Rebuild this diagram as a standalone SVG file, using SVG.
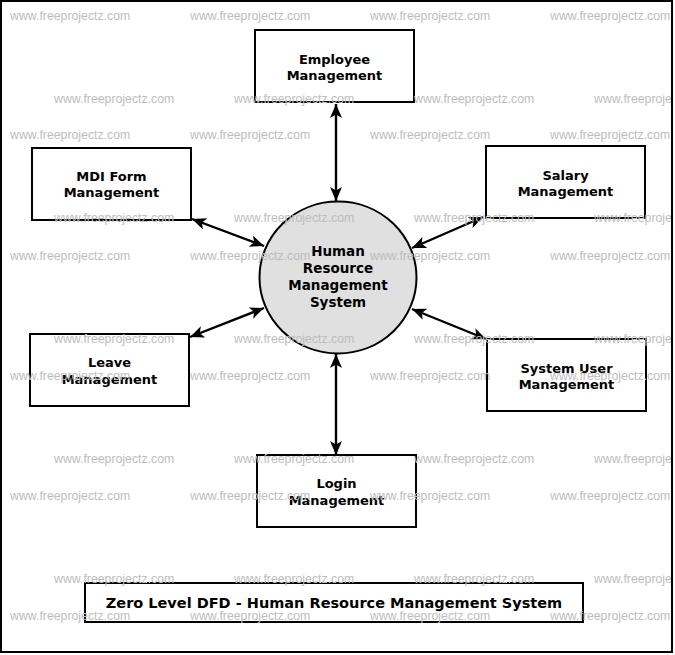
<svg xmlns="http://www.w3.org/2000/svg" width="675" height="655" viewBox="0 0 675 655">
<style>
.box{fill:#ffffff;stroke:#000000;stroke-width:2}
.lbl{font-family:"DejaVu Sans",sans-serif;font-weight:bold;font-size:13px;fill:#000000;text-anchor:middle}
.clbl{font-family:"DejaVu Sans",sans-serif;font-weight:bold;font-size:13.5px;fill:#000000;text-anchor:middle}
.wm{font-family:"Liberation Sans",Arial,sans-serif;font-size:12.3px;fill:#bdbdbd}
.conn{stroke:#000000;stroke-width:2.4;fill:none;marker-start:url(#ah);marker-end:url(#ah)}
</style>
<defs>
<marker id="ah" viewBox="0 0 14 12" refX="14" refY="6" markerWidth="14" markerHeight="12" markerUnits="userSpaceOnUse" orient="auto-start-reverse">
<path d="M0,0 L14,6 L0,12 L3.5,6 Z" fill="#000000"/>
</marker>
</defs>
<rect x="0" y="0" width="675" height="655" fill="#ffffff"/>
<rect x="1" y="1" width="671" height="651" fill="none" stroke="#000000" stroke-width="2"/>

<g id="connectors">
<line class="conn" x1="336" y1="104" x2="336" y2="201"/>
<line class="conn" x1="192" y1="219" x2="264" y2="246"/>
<line class="conn" x1="483" y1="217" x2="412" y2="248"/>
<line class="conn" x1="190" y1="337" x2="264" y2="308"/>
<line class="conn" x1="486" y1="339" x2="412" y2="309"/>
<line class="conn" x1="336" y1="354" x2="336" y2="455"/>
</g>

<g id="hrms">
<ellipse cx="338" cy="277.5" rx="78.5" ry="76" fill="#e0e0e0" stroke="#000000" stroke-width="2"/>
<text class="clbl" x="338" y="256">Human</text>
<text class="clbl" x="338" y="273">Resource</text>
<text class="clbl" x="338" y="290">Management</text>
<text class="clbl" x="338" y="307">System</text>
</g>

<g id="employee">
<rect class="box" x="255" y="30" width="159" height="72"/>
<text class="lbl" x="334.5" y="64">Employee</text>
<text class="lbl" x="334.5" y="80">Management</text>
</g>

<g id="mdi">
<rect class="box" x="32" y="148" width="159" height="72"/>
<text class="lbl" x="111.5" y="181">MDI Form</text>
<text class="lbl" x="111.5" y="197">Management</text>
</g>

<g id="salary">
<rect class="box" x="486" y="146" width="159" height="72"/>
<text class="lbl" x="565.5" y="180">Salary</text>
<text class="lbl" x="565.5" y="196">Management</text>
</g>

<g id="leave">
<rect class="box" x="30" y="334" width="159" height="72"/>
<text class="lbl" x="109.5" y="367">Leave</text>
<text class="lbl" x="109.5" y="384">Management</text>
</g>

<g id="systemuser">
<rect class="box" x="487" y="339" width="159" height="72"/>
<text class="lbl" x="566.5" y="373">System User</text>
<text class="lbl" x="566.5" y="389">Management</text>
</g>

<g id="login">
<rect class="box" x="257" y="455" width="159" height="72"/>
<text class="lbl" x="336.5" y="488">Login</text>
<text class="lbl" x="336.5" y="505">Management</text>
</g>

<g id="title">
<rect class="box" x="85" y="583" width="498" height="39"/>
<text x="334" y="608" font-family="'DejaVu Sans',sans-serif" font-weight="bold" font-size="14.5px" text-anchor="middle" fill="#000000">Zero Level DFD - Human Resource Management System</text>
</g>

<g id="watermarks" class="wm">
<text x="10" y="19.5">www.freeprojectz.com</text><text x="190" y="19.5">www.freeprojectz.com</text><text x="370" y="19.5">www.freeprojectz.com</text><text x="550" y="19.5">www.freeprojectz.com</text>
<text x="54" y="102.5">www.freeprojectz.com</text><text x="234" y="102.5">www.freeprojectz.com</text><text x="414" y="102.5">www.freeprojectz.com</text><text x="594" y="102.5">www.freeprojectz.com</text>
<text x="10" y="139">www.freeprojectz.com</text><text x="190" y="139">www.freeprojectz.com</text><text x="370" y="139">www.freeprojectz.com</text><text x="550" y="139">www.freeprojectz.com</text>
<text x="54" y="222">www.freeprojectz.com</text><text x="234" y="222">www.freeprojectz.com</text><text x="414" y="222">www.freeprojectz.com</text><text x="594" y="222">www.freeprojectz.com</text>
<text x="10" y="259.5">www.freeprojectz.com</text><text x="190" y="259.5">www.freeprojectz.com</text><text x="370" y="259.5">www.freeprojectz.com</text><text x="550" y="259.5">www.freeprojectz.com</text>
<text x="54" y="342.5">www.freeprojectz.com</text><text x="234" y="342.5">www.freeprojectz.com</text><text x="414" y="342.5">www.freeprojectz.com</text><text x="594" y="342.5">www.freeprojectz.com</text>
<text x="10" y="379.5">www.freeprojectz.com</text><text x="190" y="379.5">www.freeprojectz.com</text><text x="370" y="379.5">www.freeprojectz.com</text><text x="550" y="379.5">www.freeprojectz.com</text>
<text x="54" y="462.5">www.freeprojectz.com</text><text x="234" y="462.5">www.freeprojectz.com</text><text x="414" y="462.5">www.freeprojectz.com</text><text x="594" y="462.5">www.freeprojectz.com</text>
<text x="10" y="499.5">www.freeprojectz.com</text><text x="190" y="499.5">www.freeprojectz.com</text><text x="370" y="499.5">www.freeprojectz.com</text><text x="550" y="499.5">www.freeprojectz.com</text>
<text x="54" y="582.5">www.freeprojectz.com</text><text x="234" y="582.5">www.freeprojectz.com</text><text x="414" y="582.5">www.freeprojectz.com</text><text x="594" y="582.5">www.freeprojectz.com</text>
<text x="10" y="619.5">www.freeprojectz.com</text><text x="190" y="619.5">www.freeprojectz.com</text><text x="370" y="619.5">www.freeprojectz.com</text><text x="550" y="619.5">www.freeprojectz.com</text>
</g>
<rect x="673" y="0" width="2" height="655" fill="#ffffff"/>
<rect x="0" y="653" width="675" height="2" fill="#ffffff"/>
<rect x="671" y="0" width="2" height="653" fill="#000000"/>
</svg>
